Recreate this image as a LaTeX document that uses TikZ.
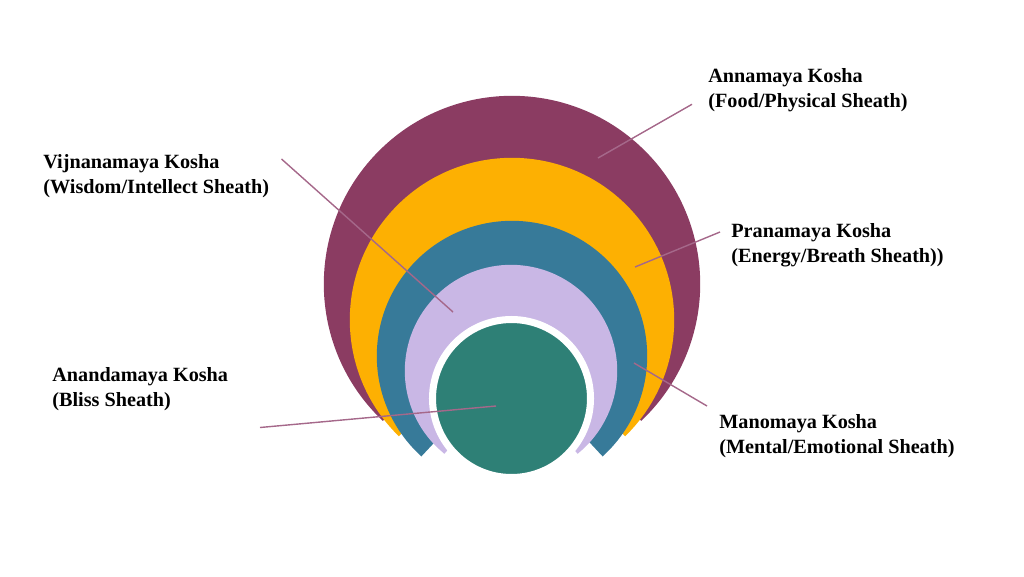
\documentclass[tikz,border=0pt]{standalone}
\usepackage{fontspec}
\setmainfont{Liberation Serif}
\definecolor{annaC}{HTML}{8B3C62}
\definecolor{pranaC}{HTML}{FDB002}
\definecolor{manoC}{HTML}{377A99}
\definecolor{vijnC}{HTML}{C9B7E5}
\definecolor{anandaC}{HTML}{2E8076}
\definecolor{leadC}{HTML}{A5688A}
\begin{document}
\begin{tikzpicture}[x=0.02cm,y=-0.02cm,
                        sheath/.style={draw=white,line width=2.5pt},
                        kosha/.style={anchor=north west,align=left,font=\bfseries\fontsize{11.5}{14.5}\selectfont,inner sep=0pt},
                        lead/.style={draw=leadC,line width=0.8pt}]
                        \useasboundingbox (0,0) rectangle (1024,576);
                        % nested sheaths, outer to inner
                        \fill[sheath,annaC] (512,284) -- ++(134:186) arc[start angle=134,end angle=406,radius=186] -- cycle;
                        \fill[sheath,pranaC] (512,320) -- ++(135:160) arc[start angle=135,end angle=405,radius=160] -- cycle;
                        \fill[sheath,manoC] (512,356) -- ++(133:133) arc[start angle=133,end angle=407,radius=133] -- cycle;
                        \fill[sheath,vijnC] (511,371) -- ++(130:104) arc[start angle=130,end angle=410,radius=104] -- cycle;
                        \fill[anandaC,draw=white,line width=4pt] (511.5,398.5) circle[radius=79];
                        % labels
                        \node[kosha] (anna) at (708,68) {Annamaya Kosha\\(Food/Physical Sheath)};
                        \node[kosha] (vijn) at (43,154) {Vijnanamaya Kosha\\(Wisdom/Intellect Sheath)};
                        \node[kosha] (prana) at (731,223) {Pranamaya Kosha\\(Energy/Breath Sheath))};
                        \node[kosha] (ananda) at (52,367) {Anandamaya Kosha\\(Bliss Sheath)};
                        \node[kosha] (mano) at (719,414) {Manomaya Kosha\\(Mental/Emotional Sheath)};
                        % leader lines
                        \coordinate (annaP) at (598,158);
                        \coordinate (vijnP) at (453,312);
                        \coordinate (pranaP) at (635,267);
                        \coordinate (anandaP) at (496,406);
                        \coordinate (manoP) at (634,363);
                        \draw[lead] (anna.west) ++(-16,14) coordinate (annaE) (annaE) -- (annaP);
                        \draw[lead] (vijn.north east) ++(12,5) coordinate (vijnE) (vijnE) -- (vijnP);
                        \draw[lead] (prana.north west) ++(-11,9) coordinate (pranaE) (pranaE) -- (pranaP);
                        \draw[lead] (ananda.south west) ++(208,16) coordinate (anandaE) (anandaE) -- (anandaP);
                        \draw[lead] (mano.north west) ++(-12,-8) coordinate (manoE) (manoE) -- (manoP);
                \end{tikzpicture}
\end{document}
